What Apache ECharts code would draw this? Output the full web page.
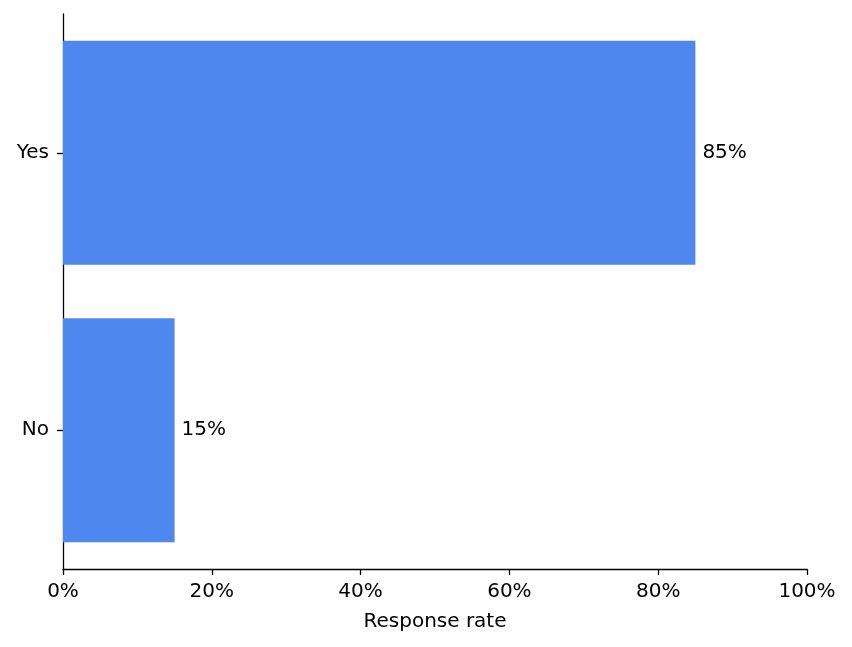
<!DOCTYPE html>
<html><head><meta charset="utf-8">
<script src="https://cdn.jsdelivr.net/npm/echarts@6/dist/echarts.min.js"></script>
<style>html,body{margin:0;padding:0;background:#fff}#c{width:852px;height:647px}</style>
</head><body><div id="c"></div>
<script>
const categories = ['Yes', 'No'];
const values = [85, 15];
const xTicks = [0, 20, 40, 60, 80, 100];

const FONT = 'DejaVu Sans';
const FS = 20;
const chart = echarts.init(document.getElementById('c'), null, {renderer: 'canvas'});
chart.setOption({
  animation: false,
  grid: {left: 63, right: 45, top: 14, bottom: 78, containLabel: false},
  xAxis: {
    type: 'value', min: xTicks[0], max: xTicks[xTicks.length - 1], interval: xTicks[1] - xTicks[0],
    name: 'Response rate', nameLocation: 'middle', nameGap: 43,
    nameTextStyle: {fontFamily: FONT, fontSize: FS, color: '#000'},
    axisLine: {show: true, lineStyle: {color: '#000', width: 1.3}},
    axisTick: {show: true, length: 6, lineStyle: {color: '#000', width: 1.3}},
    axisLabel: {fontFamily: FONT, fontSize: FS, color: '#000', margin: 13, formatter: v => v + '%'},
    splitLine: {show: false}
  },
  yAxis: {
    type: 'category', data: categories, inverse: true,
    axisLine: {show: true, lineStyle: {color: '#000', width: 1.3}},
    axisTick: {show: true, length: 6, alignWithLabel: true, lineStyle: {color: '#000', width: 1.3}},
    axisLabel: {fontFamily: FONT, fontSize: FS, color: '#000', margin: 14}
  },
  series: [{
    type: 'bar', data: values, barWidth: '80.7%',
    itemStyle: {color: '#4e87ed'},
    label: {show: true, position: 'right', distance: 7, formatter: p => p.value + '%',
      fontFamily: FONT, fontSize: FS, color: '#000'}
  }]
});
</script></body></html>
